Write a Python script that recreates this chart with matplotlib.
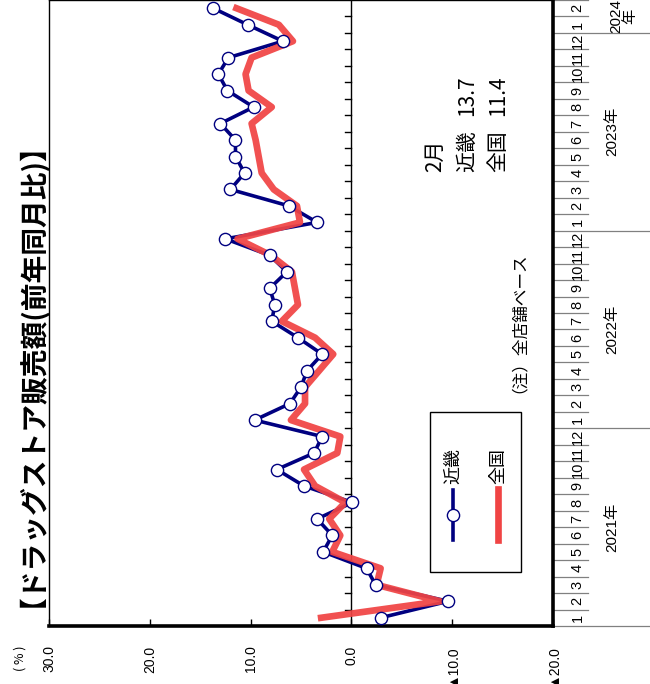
import matplotlib
matplotlib.use("Agg")
import matplotlib.pyplot as plt
from matplotlib import font_manager
from matplotlib.patches import Rectangle
from matplotlib.lines import Line2D

# ---------------- data ----------------
years = [2021, 2022, 2023, 2024]
months = [1, 2, 3, 4, 5, 6, 7, 8, 9, 10, 11, 12] * 3 + [1, 2]
kinki = [-2.9, -9.6, -2.4, -1.5, 2.8, 1.9, 3.4, -0.1, 4.7, 7.4, 3.7, 2.9,
         9.6, 6.1, 5.0, 4.4, 2.9, 5.3, 7.9, 7.6, 8.1, 6.4, 8.1, 12.5,
         3.4, 6.2, 12.0, 10.6, 11.5, 11.5, 13.0, 9.7, 12.3, 13.2, 12.2, 6.8,
         10.3, 13.7]
zenkoku = [3.0, -8.8, -2.5, -2.9, 1.9, 1.1, 2.2, 0.6, 3.6, 4.7, 1.4, 1.1,
           6.0, 4.6, 4.6, 3.2, 1.8, 3.6, 6.9, 5.3, 5.6, 5.9, 8.0, 11.3,
           5.1, 5.4, 7.7, 8.9, 9.2, 9.5, 9.9, 7.9, 10.2, 10.5, 9.9, 5.8,
           7.2, 11.4]
value_ticks = [30, 20, 10, 0, -10, -20]
value_labels = ["30.0", "20.0", "10.0", "0.0", "▲10.0", "▲20.0"]
series_names = ["近畿", "全国"]
title = "【ドラッグストア販売額(前年同月比)】"
note = "（注）全店舗ベース"
latest_month = "2月"

# ---------------- fonts ----------------
names = {f.name for f in font_manager.fontManager.ttflist}
narrow = "Liberation Sans Narrow" if "Liberation Sans Narrow" in names else "Liberation Sans"
NUMF = [narrow, "DejaVu Sans"]
CJK = ["Noto Sans CJK JP", "DejaVu Sans"]
plt.rcParams["font.family"] = CJK

W, H = 650, 684
fig = plt.figure(figsize=(W / 100, H / 100), dpi=100)
ax = fig.add_axes([49 / W, 58 / H, 504 / W, 626 / H])

BLUE = "#000080"
RED = "#f04444"

idx = list(range(len(kinki)))
ax.plot(kinki, idx, color=BLUE, lw=2.6, zorder=3)
ax.plot(zenkoku, idx, color=RED, lw=4.8, alpha=0.93, zorder=4)
ax.plot(kinki, idx, ls="none", marker="o", ms=8.8, mfc="white", mec=BLUE, mew=1.0, zorder=5)

ax.set_xlim(30, -20)
ax.set_ylim(-0.5, len(kinki) - 0.5)

# zero line with month ticks
ax.axvline(0, color="black", lw=1, zorder=2)
for i in range(1, len(kinki)):
    ax.plot([0, 0.6], [i - 0.5, i - 0.5], color="black", lw=1, zorder=2)

for s in ["left", "top"]:
    ax.spines[s].set_linewidth(1.0)
for s in ["right", "bottom"]:
    ax.spines[s].set_linewidth(2.6)

ax.set_yticks([])
ax.set_xticks(value_ticks)
ax.set_xticklabels(value_labels, rotation=90, va="top", ha="center",
                   fontsize=10, family=NUMF)
ax.tick_params(axis="x", direction="in", length=5, width=1, pad=14)

# category axis (month / year)
tr = ax.get_yaxis_transform()
for i in range(len(months) + 1):
    b = i - 0.5
    if i % 12 == 0:
        ax.plot([1.0, 1.2], [b, b], color="#808080", lw=0.9, transform=tr, clip_on=False)
    else:
        ax.plot([1.0, 1.069], [b, b], color="#808080", lw=0.9, transform=tr, clip_on=False)
for i, m in enumerate(months):
    ax.text(1.049, i, str(m), transform=tr, rotation=90, ha="center", va="center",
            fontsize=10.5, family=NUMF, clip_on=False)
for k, y in enumerate(years):
    members = [i for i in idx if i // 12 == k]
    c = (members[0] + members[-1]) / 2
    if len(members) == 12:
        ax.text(1.117, c, f"{y}年", transform=tr, rotation=90, ha="center", va="center",
                fontsize=11, family=[narrow, "Noto Sans CJK JP"], clip_on=False)
    else:
        ax.text(1.139, c, f"{y}\n年", transform=tr, rotation=90, ha="center", va="center",
                fontsize=11, family=[narrow, "Noto Sans CJK JP"], linespacing=1.0,
                clip_on=False)


def ftext(px, py, s, **kw):
    fig.text(px / W, 1 - py / H, s, rotation=90, rotation_mode="anchor", **kw)


ftext(17, 607, title, ha="left", va="center", fontsize=20, fontweight="bold")
ftext(20, 671, "( % )", ha="left", va="center", fontsize=9)

ftext(435, 172, latest_month, ha="left", va="center", fontsize=15)
ftext(467, 172, series_names[0], ha="left", va="center", fontsize=15)
ftext(467, 75, f"{kinki[-1]:.1f}", ha="right", va="center", fontsize=15)
ftext(498, 172, series_names[1], ha="left", va="center", fontsize=15)
ftext(498, 75, f"{zenkoku[-1]:.1f}", ha="right", va="center", fontsize=15)
ftext(510, 393, note, ha="left", va="center", fontsize=12)

# legend
fig.patches.append(Rectangle((430 / W, 1 - 572 / H), 91 / W, 160 / H, transform=fig.transFigure,
                             facecolor="white", edgecolor="black", lw=1.0, zorder=6))
fig.lines.append(Line2D([453 / W] * 2, [1 - 490 / H, 1 - 540 / H], transform=fig.transFigure,
                        color=BLUE, lw=2.6, zorder=7))
fig.lines.append(Line2D([453 / W], [1 - 515 / H], transform=fig.transFigure, ls="none",
                        marker="o", ms=8.8, mfc="white", mec=BLUE, mew=1.0, zorder=8))
fig.lines.append(Line2D([498 / W] * 2, [1 - 489 / H, 1 - 540 / H], transform=fig.transFigure,
                        color=RED, lw=4.8, zorder=7))
ftext(453, 484, series_names[0], ha="left", va="center", fontsize=13, zorder=9)
ftext(498, 484, series_names[1], ha="left", va="center", fontsize=13, zorder=9)

fig.savefig("out.png", dpi=100)
